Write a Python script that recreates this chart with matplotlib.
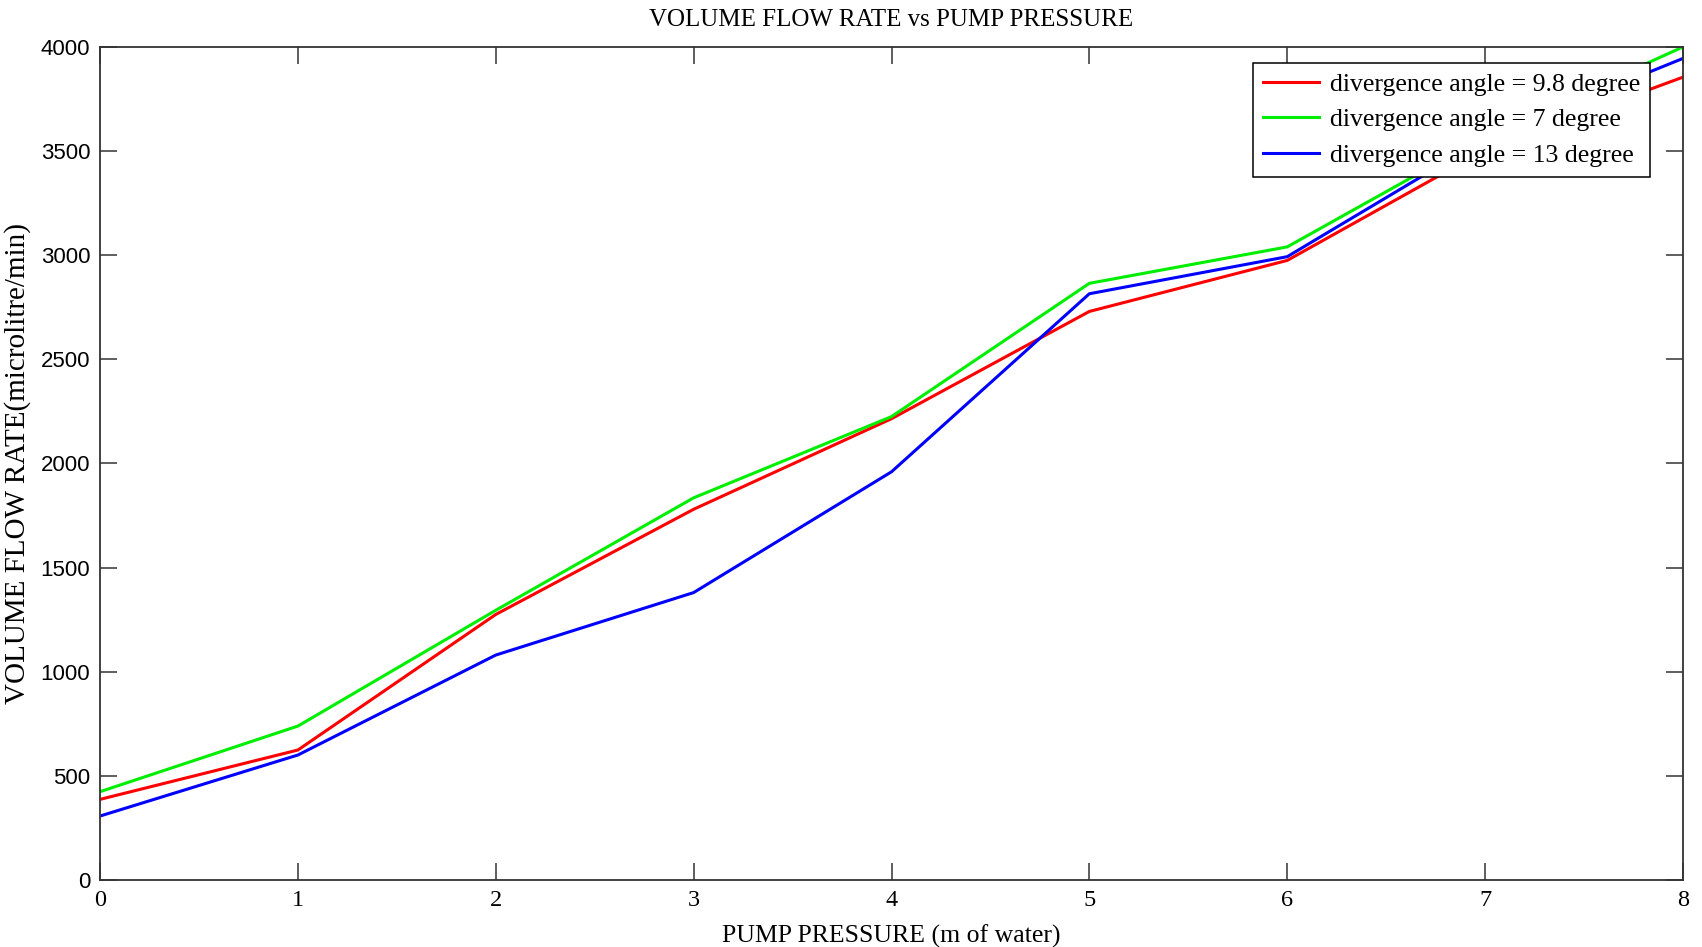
import matplotlib
matplotlib.use("Agg")
import matplotlib.pyplot as plt

# pump pressure (m of water)
pressure = [0, 1, 2, 3, 4, 5, 6, 7, 8]

# volume flow rate (microlitre/min) for each divergence angle
flow_9_8 = [387, 624, 1275, 1780, 2215, 2730, 2975, 3505, 3855]
flow_7 = [424, 739, 1295, 1835, 2225, 2865, 3040, 3570, 4000]
flow_13 = [307, 600, 1080, 1380, 1960, 2815, 2993, 3560, 3945]

labels = ["divergence angle = 9.8 degree",
          "divergence angle = 7 degree",
          "divergence angle = 13 degree"]
x_ticks = [0, 1, 2, 3, 4, 5, 6, 7, 8]
y_ticks = [0, 500, 1000, 1500, 2000, 2500, 3000, 3500, 4000]

serif = ["Liberation Serif", "DejaVu Serif"]
sans = ["Liberation Sans", "DejaVu Sans"]

fig = plt.figure(figsize=(17.02, 9.47), dpi=100)
ax = fig.add_axes([0.0588, 0.0708, 0.93, 0.8796])

ax.plot(pressure, flow_9_8, color="#ff0000", lw=2.2, label=labels[0])
ax.plot(pressure, flow_7, color="#00ee00", lw=2.2, label=labels[1])
ax.plot(pressure, flow_13, color="#0000ff", lw=2.2, label=labels[2])

ax.set_xlim(0, 8)
ax.set_ylim(0, 4000)
ax.set_xticks(x_ticks)
ax.set_yticks(y_ticks)
ax.set_xticklabels([str(t) for t in x_ticks], family=serif, fontsize=17.5)
ax.set_yticklabels([str(t) for t in y_ticks], family=sans, fontsize=16)

ax.tick_params(direction="in", top=True, right=True, length=12, width=1.1,
               color="#333333", pad=7)
for s in ax.spines.values():
    s.set_color("#333333")
    s.set_linewidth(1.3)

ax.set_title("VOLUME FLOW RATE vs PUMP PRESSURE", family=serif, fontsize=18, pad=15)
ax.set_xlabel("PUMP PRESSURE (m of water)", family=serif, fontsize=18.5, labelpad=10)
ax.set_ylabel("VOLUME FLOW RATE(microlitre/min)", family=serif, fontsize=21, labelpad=7)

leg = ax.legend(loc="upper right", bbox_to_anchor=(0.979, 0.981), borderaxespad=0,
                prop={"family": serif, "size": 18.5}, fancybox=False, framealpha=1,
                edgecolor="black", handlelength=2.2, handletextpad=0.4,
                labelspacing=0.5, borderpad=0.38)
leg.get_frame().set_linewidth(1.1)

fig.savefig("out.png", dpi=100)
